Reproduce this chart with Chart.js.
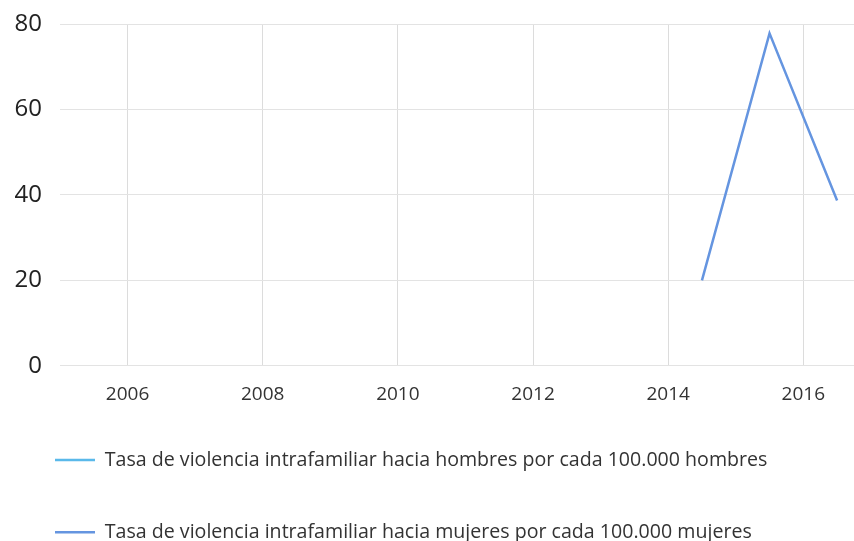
<!DOCTYPE html>
<html>
<head>
<meta charset="utf-8">
<script src="https://cdn.jsdelivr.net/npm/chart.js@4"></script>
<style>
    html, body { margin: 0; padding: 0; background: #fff; overflow: hidden; }
    #holder { width: 854px; height: 552px; position: relative; }
</style>
</head>
<body>
<div id="holder"><canvas id="c1"></canvas></div>
<script>
// values (points sit mid-year)
var years = [2014.5, 2015.5, 2016.5];
var hombres = [null, null, null];
var mujeres = [20, 77.8, 38.7];
var xTicks = [2006, 2008, 2010, 2012, 2014, 2016];
var yTicks = [0, 20, 40, 60, 80];
var labelHombres = "Tasa de violencia intrafamiliar hacia hombres por cada 100.000 hombres";
var labelMujeres = "Tasa de violencia intrafamiliar hacia mujeres por cada 100.000 mujeres";

var font = "'Open Sans', 'Noto Sans', sans-serif";

function toPoints(xs, ys) {
    let pts = [];
    for(let i=0; i<xs.length; i++)
        pts.push({x: xs[i], y: ys[i]});
    return pts;
}

var chart1 = new Chart(document.getElementById("c1"), {
    type: 'line',
    data: {
        datasets: [{
            label: labelHombres,
            data: toPoints(years, hombres),
            borderColor: '#5ab9ea',
            backgroundColor: '#5ab9ea',
            borderWidth: 2.5,
            pointRadius: 0,
            tension: 0
        }, {
            label: labelMujeres,
            data: toPoints(years, mujeres),
            borderColor: '#6595e0',
            backgroundColor: '#6595e0',
            borderWidth: 2.5,
            pointRadius: 0,
            tension: 0
        }]
    },
    options: {
        responsive: true,
        maintainAspectRatio: false,
        animation: false,
        layout: { padding: { top: 24, right: 0, bottom: 0, left: 2.5 } },
        scales: {
            x: {
                type: 'linear',
                min: 2005,
                max: 2016.75,
                afterBuildTicks: (scale) => { scale.ticks = xTicks.map((v) => ({value: v})); },
                afterFit: (scale) => {
                    scale.height = 32;
                    // labels hang a little below the axis box, don't clip them
                    scale._computeLabelArea = () => undefined;
                },
                grid: { color: '#dcdcdc', drawTicks: false },
                border: { display: false },
                ticks: {
                    padding: 17,
                    color: '#333',
                    font: { family: font, size: 19 },
                    callback: (v) => String(v)
                }
            },
            y: {
                min: 0,
                max: 80,
                afterBuildTicks: (scale) => { scale.ticks = yTicks.map((v) => ({value: v})); },
                afterFit: (scale) => {
                    scale.width = 57.5;
                    // tick padding is only wanted sideways
                    scale.paddingTop = 15;
                    scale.paddingBottom = 0;
                },
                grid: { color: '#e3e3e3', drawTicks: false },
                border: { display: false },
                ticks: {
                    padding: 18,
                    color: '#222',
                    font: { family: font, size: 24 }
                }
            }
        },
        plugins: {
            legend: {
                position: 'bottom',
                align: 'start',
                labels: {
                    usePointStyle: true,
                    pointStyle: 'line',
                    pointStyleWidth: 40,
                    padding: 52.5,
                    color: '#333',
                    font: { family: font, size: 19.6 }
                }
            },
            tooltip: { enabled: false }
        }
    }
});
</script>
</body>
</html>
